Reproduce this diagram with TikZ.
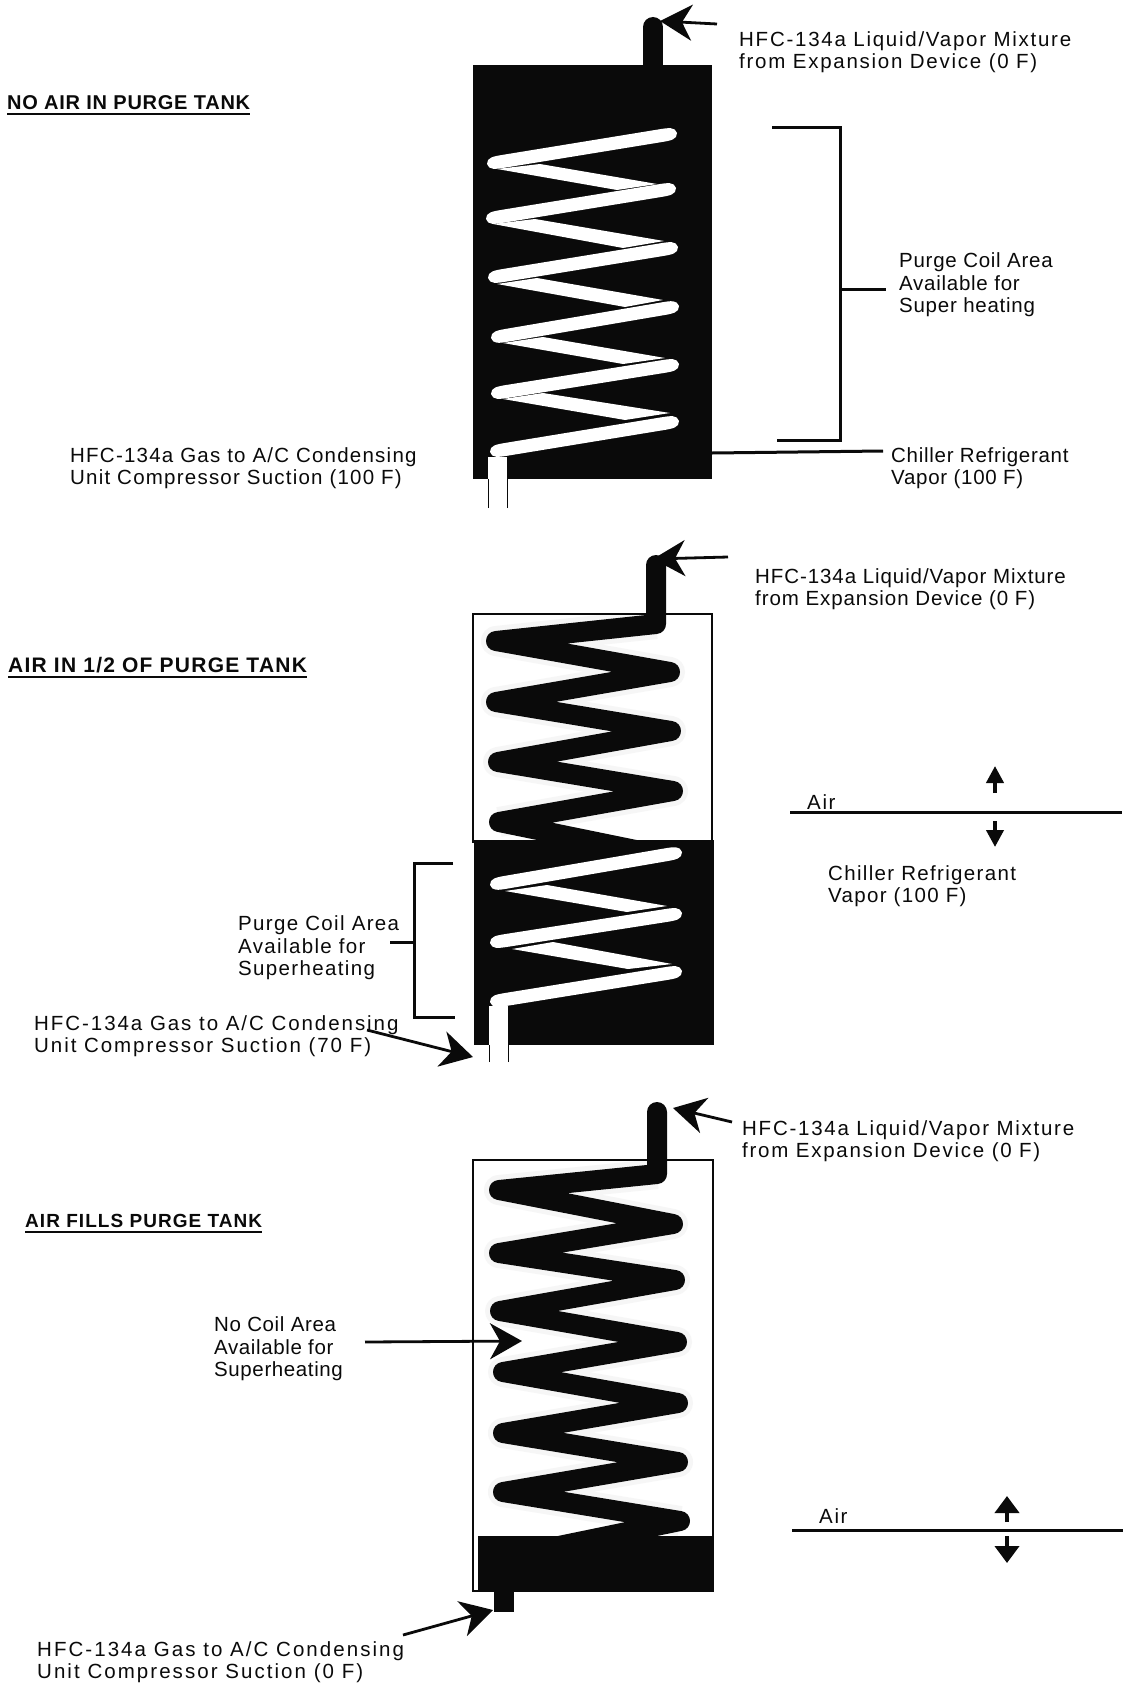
\documentclass[tikz,border=0pt]{standalone}
\usepackage{fontspec}
\setmainfont{Liberation Sans}
\usepackage{xcolor}
\definecolor{cInk}{HTML}{0A0A0A}
\definecolor{cPaper}{HTML}{FFFFFF}
\definecolor{cStipple}{HTML}{F6F6F6}
\usetikzlibrary{positioning,arrows.meta,calc}
\tikzset{
  node-label/.style={anchor=west,inner sep=0pt,align=left,text=cInk,
    font=\fontsize{20.5}{22.5}\selectfont\addfontfeatures{LetterSpace=#1}},
  node-title/.style 2 args={anchor=west,inner sep=0pt,text=cInk,
    font=\fontsize{#1}{22}\selectfont\bfseries\addfontfeatures{LetterSpace=#2}},
  tank-wall/.style={draw=cInk,line width=1.2pt,fill=cPaper},
  tank-full/.style={fill=cInk},
  coil-dark/.style={draw=cInk,line width=20pt,line join=round,line cap=round},
  coil-halo/.style={draw=cStipple,line width=30pt,line join=round},
  tube-front/.style={fill=cPaper},
  tube-back/.style={fill=cPaper},
  tube-end/.style={draw=cInk,line width=1pt},
  arrow-barb/.style={-{Stealth[length=32pt,width=36pt,inset=10pt]},line width=2.8pt,draw=cInk},
  arrow-air/.style={-{Stealth[length=17pt,width=17pt,inset=0pt]},line width=4pt,draw=cInk},
  arrow-air-big/.style={-{Stealth[length=17pt,width=24pt,inset=0pt]},line width=4pt,draw=cInk},
  line-lead/.style={draw=cInk,line width=3pt},
  line-under/.style={draw=cInk,line width=2.4pt},
}
\newcommand{\tubefront}[2]{
  \coordinate (l) at (#1);
  \coordinate (r) at (#2);
  \fill[tube-front] (l) .. controls ($(l)!1pt!(r)!6.5pt!90:(r)$) and ($(l)!7pt!(r)!6.5pt!90:(r)$) .. ($(l)!18pt!(r)!6.5pt!90:(r)$)
    -- ($(r)!18pt!(l)!6.5pt!-90:(l)$) .. controls ($(r)!7pt!(l)!6.5pt!-90:(l)$) and ($(r)!1pt!(l)!6.5pt!-90:(l)$) .. (r)
    .. controls ($(r)!1pt!(l)!6.5pt!90:(l)$) and ($(r)!7pt!(l)!6.5pt!90:(l)$) .. ($(r)!18pt!(l)!6.5pt!90:(l)$)
    -- ($(l)!18pt!(r)!6.5pt!-90:(r)$) .. controls ($(l)!7pt!(r)!6.5pt!-90:(r)$) and ($(l)!1pt!(r)!6.5pt!-90:(r)$) .. (l) -- cycle;
}
\begin{document}
\begin{tikzpicture}[x=1pt,y=-1pt]
  \useasboundingbox (0,0) rectangle (1126,1691);
  \fill[cPaper] (0,0) rectangle (1126,1691);

  % no air
  \node[node-title={20}{3.7}] (title-a) at (7,103) {NO AIR IN PURGE TANK};
  \draw[line-under] ($(title-a.south west)+(0,4)$) -- ($(title-a.south east)+(0,4)$);
  \fill[tank-full] (473,65) rectangle (712,479);
  \draw[coil-dark] (653,70) -- (653,27);
  \fill[tube-back] (488,457) rectangle (507,508);
  \draw[tube-end] (488,508) -- (488,479);
  \draw[tube-end] (507,508) -- (507,479);
  \foreach \xa/\ya/\xb/\yb/\xc/\yc/\xd/\yd in {
    497/169/540/164/657/184/617/190,
    493/224/535/219/664/241/623/248,
    497/284/537/278/663/300/625/307,
    503/343/543/337/665/358/623/364,
    503/399/543/393/670/413/625/420} {
    \fill[tube-back] (\xa,\ya) -- (\xb,\yb) -- (\xc,\yc) -- (\xd,\yd) -- cycle;
  }
  \foreach \xa/\ya/\xb/\yb in {
    677/133/487/164, 676/188/486/219, 678/247/488/278,
    679/306/491/338, 679/364/491/394, 679/421/490/452} {
    \tubefront{\xb,\yb}{\xa,\ya}
  }
  \node[node-label=8.5] (feed-a) at (739,52) {HFC-134a Liquid/Vapor Mixture\\from Expansion Device (0 F)};
  \node[node-label=3.6] (area-a) at (899,285) {Purge Coil Area\\Available for\\Super heating};
  \node[node-label=3.5] (vapor-a) at (891,468) {Chiller Refrigerant\\Vapor (100 F)};
  \node[node-label=6] (suction-a) at (70,468) {HFC-134a Gas to A/C Condensing\\Unit Compressor Suction (100 F)};
  \coordinate (feed-a-from) at (717,24);
  \coordinate (feed-a-to) at (660,21);
  \draw[arrow-barb] (feed-a-from) -- (feed-a-to);
  \draw[line-lead] (772,128) -- (840,128) -- (840,440) -- (777,440);
  \coordinate (area-a-from) at (840,289);
  \draw[line-lead] (area-a-from) -- (886,289);
  \coordinate (vapor-a-from) at (712,453);
  \draw[line-lead] (vapor-a-from) -- (883,451);

  % half full
  \node[node-title={21}{6}] (title-b) at (8,665) {AIR IN 1/2 OF PURGE TANK};
  \draw[line-under] ($(title-b.south west)+(0,4)$) -- ($(title-b.south east)+(0,4)$);
  \draw[tank-wall] (473,614) rectangle (712,842);
  \begin{scope}
    \clip (474,615) rectangle (711,840);
    \draw[coil-halo] (656,624) -- (496,641) -- (670,672) -- (496,702) -- (671,731)
      -- (498,762) -- (673,791) -- (499,822);
  \end{scope}
  \draw[coil-dark] (656,565) -- (656,624) -- (496,641) -- (670,672) -- (496,702) -- (671,731)
    -- (498,762) -- (673,791) -- (499,822) -- (660,855);
  \fill[tank-full] (474,840) rectangle (714,1045);
  \fill[tube-back] (489,1006) rectangle (508,1062);
  \draw[tube-end] (489,1062) -- (489,1045);
  \draw[tube-end] (508,1062) -- (508,1045);
  \foreach \xa/\ya/\xb/\yb/\xc/\yc/\xd/\yd in {
    505/891/547/885/667/906/627/912,
    512/949/553/942/672/964/628/969} {
    \fill[tube-back] (\xa,\ya) -- (\xb,\yb) -- (\xc,\yc) -- (\xd,\yd) -- cycle;
  }
  \foreach \xa/\ya/\xb/\yb in {
    682/852/490/885, 682/913/490/943, 682/971/490/1002} {
    \tubefront{\xb,\yb}{\xa,\ya}
  }
  \node[node-label=4.5] (feed-b) at (755,589) {HFC-134a Liquid/Vapor Mixture\\from Expansion Device (0 F)};
  \node[node-label=8] (air-b) at (807,802) {Air};
  \node[node-label=6.5] (vapor-b) at (828,886) {Chiller Refrigerant\\Vapor (100 F)};
  \node[node-label=6.6] (area-b) at (238,948) {Purge Coil Area\\Available for\\Superheating};
  \node[node-label=9.5] (suction-b) at (34,1036) {HFC-134a Gas to A/C Condensing\\Unit Compressor Suction (70 F)};
  \coordinate (feed-b-from) at (728,557);
  \coordinate (feed-b-to) at (653,559);
  \draw[arrow-barb] (feed-b-from) -- (feed-b-to);
  \draw[line-lead] (790,812) -- (1122,812);
  \draw[arrow-air] (995,793) -- (995,766);
  \draw[arrow-air] (995,821) -- (995,847);
  \draw[line-lead] (453,863) -- (414,863) -- (414,1017) -- (455,1017);
  \draw[line-lead] (390,942) -- (414,942);
  \coordinate (suction-b-from) at (367,1030);
  \coordinate (suction-b-to) at (473,1057);
  \draw[arrow-barb] (suction-b-from) -- (suction-b-to);

  % full of air
  \node[node-title={19}{5.5}] (title-c) at (25,1221) {AIR FILLS PURGE TANK};
  \draw[line-under] ($(title-c.south west)+(0,4)$) -- ($(title-c.south east)+(0,4)$);
  \draw[tank-wall] (473,1160) rectangle (713,1591);
  \begin{scope}
    \clip (474,1161) rectangle (712,1536);
    \draw[coil-halo] (657,1174) -- (499,1190) -- (673,1224) -- (499,1253) -- (675,1280)
      -- (500,1311) -- (677,1342) -- (503,1372) -- (678,1403) -- (503,1433) -- (678,1462)
      -- (503,1492) -- (680,1521);
  \end{scope}
  \draw[coil-dark] (657,1112) -- (657,1174) -- (499,1190) -- (673,1224) -- (499,1253) -- (675,1280)
    -- (500,1311) -- (677,1342) -- (503,1372) -- (678,1403) -- (503,1433) -- (678,1462)
    -- (503,1492) -- (680,1521) -- (520,1554);
  \fill[tank-full] (478,1536) rectangle (714,1591);
  \fill[tank-full] (494,1590) rectangle (514,1612);
  \node[node-label=8.5] (feed-c) at (742,1141) {HFC-134a Liquid/Vapor Mixture\\from Expansion Device (0 F)};
  \node[node-label=3] (area-c) at (214,1349) {No Coil Area\\Available for\\Superheating};
  \node[node-label=8] (air-c) at (819,1516) {Air};
  \node[node-label=10] (suction-c) at (37,1662) {HFC-134a Gas to A/C Condensing\\Unit Compressor Suction (0 F)};
  \coordinate (feed-c-from) at (732,1122);
  \coordinate (feed-c-to) at (673,1108);
  \draw[arrow-barb] (feed-c-from) -- (feed-c-to);
  \coordinate (area-c-from) at (365,1342);
  \coordinate (area-c-to) at (522,1341);
  \draw[arrow-barb] (area-c-from) -- (area-c-to);
  \draw[line-lead] (792,1530) -- (1123,1530);
  \draw[arrow-air-big] (1007,1522) -- (1007,1496);
  \draw[arrow-air-big] (1007,1536) -- (1007,1563);
  \coordinate (suction-c-from) at (403,1635);
  \coordinate (suction-c-to) at (493,1610);
  \draw[arrow-barb] (suction-c-from) -- (suction-c-to);
\end{tikzpicture}
\end{document}
